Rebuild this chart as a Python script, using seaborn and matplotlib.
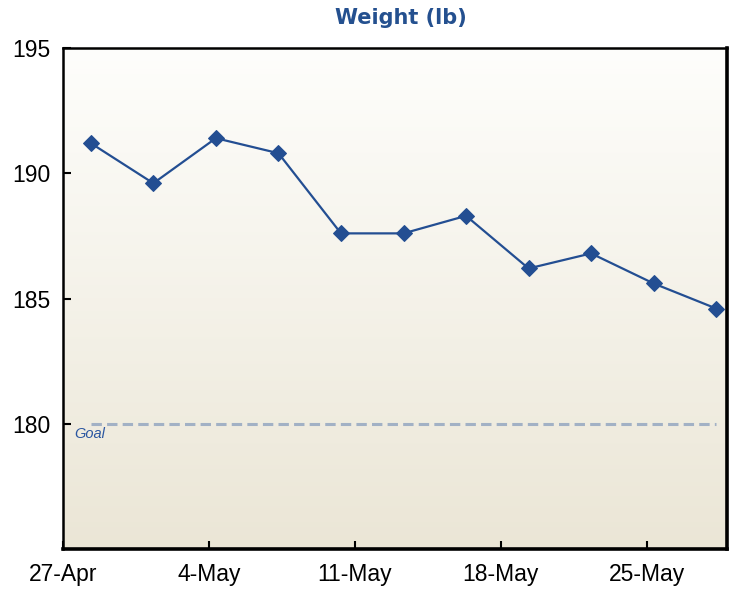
import matplotlib.pyplot as plt
import matplotlib.dates as mdates
import matplotlib.transforms as mtransforms
from matplotlib.colors import LinearSegmentedColormap
import pandas as pd
import seaborn as sns
import numpy as np

# weigh-ins, roughly every 3 days
dates = ['2009-04-28 08:00', '2009-05-01 08:00', '2009-05-04 08:00', '2009-05-07 08:00',
         '2009-05-10 08:00', '2009-05-13 08:00', '2009-05-16 08:00', '2009-05-19 08:00',
         '2009-05-22 08:00', '2009-05-25 08:00', '2009-05-28 08:00']
weights = [191.2, 189.6, 191.4, 190.8, 187.6, 187.6, 188.3, 186.2, 186.8, 185.6, 184.6]
goal = 180
tick_dates = ['2009-04-27', '2009-05-04', '2009-05-11', '2009-05-18', '2009-05-25']
y_ticks = [180, 185, 190, 195]

data = pd.DataFrame({'date': pd.to_datetime(dates), 'weight': weights})

sns.set_style('ticks')
plt.rcParams['font.family'] = ['Liberation Sans', 'DejaVu Sans']

fig = plt.figure(figsize=(7.37, 5.89), dpi=100)
ax = fig.add_axes([0.0855, 0.0679, 0.9009, 0.8506])

# background gradient white -> beige
cmap = LinearSegmentedColormap.from_list('bg', ['#fefefc', '#ebe6d6'])
grad = np.linspace(0, 1, 256).reshape(-1, 1)
ax.imshow(grad, cmap=cmap, aspect='auto', extent=[0, 1, 0, 1],
          transform=ax.transAxes, zorder=0)

line_col = '#234e92'
sns.lineplot(data=data, x='date', y='weight', ax=ax, color=line_col, lw=1.6,
             marker='D', markersize=8, markeredgecolor=line_col, zorder=3)

# goal line spans the data range
ax.plot([data.date.min(), data.date.max()], [goal, goal], ls=(0, (3.4, 1.7)),
        color='#a2b1c5', lw=2.2, zorder=2)
trans = mtransforms.blended_transform_factory(ax.transAxes, ax.transData)
ax.text(0.0165, goal - 0.42, 'Goal', transform=trans, fontsize=10.5, style='italic',
        color='#2a56a0', va='center', ha='left')

ax.set_xlim(pd.Timestamp('2009-04-27'), pd.Timestamp('2009-04-27') + pd.Timedelta(days=31.85))
ax.set_ylim(175, 195)
ax.set_xticks(pd.to_datetime(tick_dates))
ax.xaxis.set_major_formatter(mdates.DateFormatter('%-d-%b'))
ax.set_yticks(y_ticks)
ax.tick_params(direction='in', length=6, width=1.5, labelsize=16.5, colors='black')
ax.tick_params(axis='x', pad=10)
ax.tick_params(axis='y', pad=9)
ax.set_xlabel('')
ax.set_ylabel('')

for s in ax.spines.values():
    s.set_visible(True)
    s.set_color('black')
    s.set_linewidth(1.8)
ax.spines['right'].set_linewidth(2.6)
ax.spines['bottom'].set_linewidth(2.6)

fig.text(0.544, 0.969, 'Weight (lb)', ha='center', va='center', fontsize=15,
         fontweight='bold', color='#24508f', family='DejaVu Sans')

fig.savefig('out.png', dpi=100)
